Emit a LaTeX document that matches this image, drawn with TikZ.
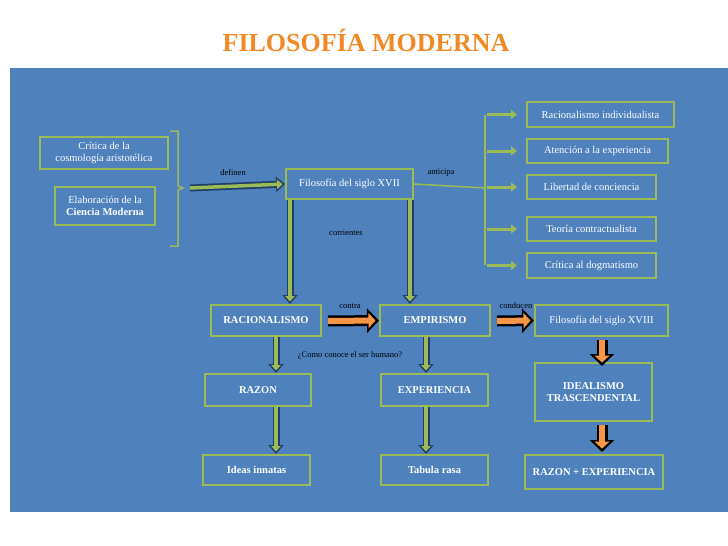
\documentclass[tikz,border=0pt]{standalone}
\usepackage{fontspec}
\setmainfont{Liberation Serif}
\usetikzlibrary{arrows.meta,calc}
\definecolor{panel}{HTML}{4F81BD}
\definecolor{gbord}{HTML}{9BBB59}
\definecolor{navy}{HTML}{1F3F66}
\definecolor{ttl}{HTML}{F08A24}
\definecolor{orng}{HTML}{F79646}
\tikzset{
 box/.style={draw=gbord,line width=2pt,text=white,align=center,inner sep=0pt,font=\fontsize{10.5}{12.5}\selectfont},
 bbox/.style={box,font=\fontsize{10.5}{12.5}\selectfont\bfseries},
 lbl/.style={text=black,font=\fontsize{8.5}{10}\selectfont,inner sep=1pt},
 fatout/.style={draw=navy,line width=7pt,-{Triangle[length=9pt,width=15pt]}},
 fatin/.style={draw=gbord,line width=3.5pt,shorten >=2.5pt,-{Triangle[length=5.5pt,width=9.5pt]}},
 orout/.style={draw=black,line width=11pt,-{Triangle[length=12pt,width=24pt]}},
 orin/.style={draw=orng,line width=6pt,shorten >=3.5pt,-{Triangle[length=7pt,width=15pt]}},
 gar/.style={draw=gbord,line width=3pt,-{Triangle[length=6pt,width=9pt]}},
}
\newcommand{\fatarrow}[2]{\draw[fatout] #1 -- #2; \draw[fatin] #1 -- #2;}
\newcommand{\orarrow}[2]{\draw[orout] #1 -- #2; \draw[orin] #1 -- #2;}
\begin{document}
\begin{tikzpicture}[x=1pt,y=-1pt]
\useasboundingbox (0,0) rectangle (728,546);
\fill[panel] (10,68) rectangle (728,512);
\node[text=ttl,font=\fontsize{26}{30}\selectfont\bfseries] (title) at (366,40) {FILOSOFÍA MODERNA};

\node[box,minimum width=128pt,minimum height=32pt] (cr) at (104,153) {Crítica de la\\cosmología aristotélica};
\node[box,minimum width=100pt,minimum height=38pt] (el) at (105,206) {Elaboración de la\\\textbf{Ciencia Moderna}};
\draw[gbord,line width=1.5pt] (170,131) -- (178,131) -- (178,186) -- (183,188) -- (178,190) -- (178,246) -- (170,246);
\coordinate (br) at (190,188);

\node[box,minimum width=127pt,minimum height=30pt] (f17) at (349.5,184) {Filosofía del siglo XVII};
\fatarrow{(br)}{(f17.west)}
\node[lbl] (definen) at (233,173) {definen};
\node[lbl] (anticipa) at (441,173) {anticipa};
\node[lbl] (corr) at (346,233) {corrientes};

\node[box,minimum width=147pt,minimum height=25pt] (r1) at (600.5,114.5) {Racionalismo individualista};
\node[box,minimum width=141pt,minimum height=24pt] (r2) at (597.5,151) {Atención a la experiencia};
\node[box,minimum width=129pt,minimum height=24pt] (r3) at (591.5,187) {Libertad de conciencia};
\node[box,minimum width=129pt,minimum height=24pt] (r4) at (591.5,229) {Teoría contractualista};
\node[box,minimum width=129pt,minimum height=25pt] (r5) at (591.5,265.5) {Crítica al dogmatismo};
\coordinate (sp) at (485,188);
\draw[gbord,line width=1.5pt] (f17.east) -- (sp);
\draw[gbord,line width=1.5pt] (485,115) -- (485,265);
\foreach \n in {r1,r2,r3,r4,r5}{\draw[gar] (\n.west -| 487,0) -- ([xshift=-9pt]\n.west);}

\node[bbox,minimum width=110pt,minimum height=31pt] (rac) at (266,320.5) {RACIONALISMO};
\node[bbox,minimum width=110pt,minimum height=31pt] (emp) at (435,320.5) {EMPIRISMO};
\node[box,minimum width=133pt,minimum height=31pt] (f18) at (601.5,320.5) {Filosofía del siglo XVIII};
\fatarrow{(f17.south -| 290,0)}{(rac.north -| 290,0)}
\fatarrow{(f17.south -| 410,0)}{(emp.north -| 410,0)}
\orarrow{(328,321)}{(emp.west)}
\orarrow{(497,321)}{(f18.west)}
\node[lbl] (contra) at (350,306) {contra};
\node[lbl] (cond) at (516,306) {conducen};

\node[bbox,minimum width=106pt,minimum height=32pt] (raz) at (258,390) {RAZON};
\node[bbox,minimum width=107pt,minimum height=32pt] (exp) at (434.5,390) {EXPERIENCIA};
\node[bbox,minimum width=107pt,minimum height=30pt] (ide) at (256.5,470) {Ideas innatas};
\node[bbox,minimum width=107pt,minimum height=30pt] (tab) at (434.5,470) {Tabula rasa};
\fatarrow{(rac.south -| 276,0)}{(raz.north -| 276,0)}
\fatarrow{(emp.south -| 426,0)}{(exp.north -| 426,0)}
\fatarrow{(raz.south -| 276,0)}{(ide.north -| 276,0)}
\fatarrow{(exp.south -| 426,0)}{(tab.north -| 426,0)}
\node[lbl] (como) at (350,355) {¿Como conoce el ser humano?};

\node[bbox,minimum width=117pt,minimum height=58pt] (idl) at (593.5,392) {IDEALISMO\\TRASCENDENTAL};
\node[bbox,minimum width=138pt,minimum height=34pt] (re) at (594,472) {RAZON + EXPERIENCIA};
\orarrow{(602,340)}{(602,366)}
\orarrow{(602,425)}{(602,452)}
\end{tikzpicture}
\end{document}
